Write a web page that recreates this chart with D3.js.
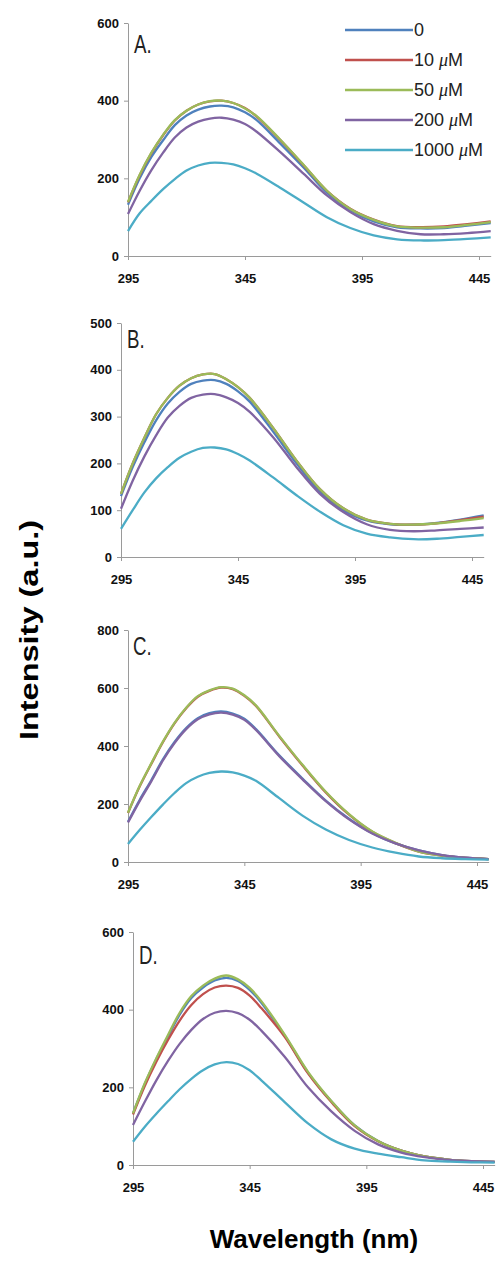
<!DOCTYPE html>
<html>
<head>
<meta charset="utf-8">
<script src="https://cdn.jsdelivr.net/npm/d3@7"></script>
<style>
    body { margin: 0; background: #fff; }
    svg { display: block; }
</style>
</head>
<body>
<div id="chart"></div>
<script>
const wavelengths = [295, 300, 305, 310, 315, 320, 325, 330, 335, 340, 345, 350, 360, 370, 380, 390, 400, 410, 420, 430, 440, 450];
const concentrations = ['0', '10', '50', '200', '1000'];
const xTicks = [295, 345, 395, 445];

const yTicksA = [0, 200, 400, 600];
const yTicksB = [0, 100, 200, 300, 400, 500];
const yTicksC = [0, 200, 400, 600, 800];
const yTicksD = [0, 200, 400, 600];

// Panel A
const intensityA0 = [132, 200, 255, 298, 337, 362, 377, 385, 387, 383, 370, 350, 290, 228, 163, 118, 89, 74, 71, 72, 78, 85];
const intensityA10 = [138, 208, 265, 311, 349, 374, 390, 398, 400, 394, 381, 359, 299, 234, 168, 122, 94, 77, 74, 76, 82, 89];
const intensityA50 = [139, 209, 266, 312, 350, 374, 390, 399, 400, 394, 380, 360, 300, 235, 168, 121, 93, 76, 73, 74, 80, 87];
const intensityA200 = [108, 168, 221, 266, 305, 331, 346, 354, 356, 351, 340, 320, 268, 212, 156, 113, 82, 65, 56, 56, 59, 64];
const intensityA1000 = [64, 110, 142, 172, 198, 220, 233, 240, 240, 236, 226, 212, 176, 138, 100, 72, 53, 43, 40, 41, 44, 48];

// Panel B
const intensityB0 = [130, 192, 245, 292, 328, 353, 370, 377, 378, 370, 354, 332, 268, 200, 140, 100, 78, 70, 69, 73, 80, 89];
const intensityB10 = [135, 200, 255, 305, 340, 366, 382, 390, 391, 380, 363, 340, 276, 206, 145, 104, 80, 71, 69, 72, 79, 86];
const intensityB50 = [135, 200, 255, 305, 340, 366, 382, 390, 391, 380, 363, 340, 276, 206, 145, 104, 80, 71, 69, 72, 77, 83];
const intensityB200 = [103, 163, 215, 260, 298, 323, 340, 347, 348, 341, 329, 310, 256, 192, 135, 96, 70, 58, 55, 57, 60, 63];
const intensityB1000 = [60, 100, 138, 168, 192, 212, 225, 233, 234, 230, 220, 206, 170, 132, 97, 68, 50, 42, 38, 39, 43, 47];

// Panel C
const intensityC0 = [139, 214, 282, 354, 414, 462, 496, 513, 519, 512, 494, 458, 368, 288, 212, 149, 99, 64, 40, 24, 15, 10];
const intensityC10 = [169, 260, 338, 413, 478, 530, 570, 590, 601, 596, 573, 538, 433, 333, 240, 163, 104, 65, 36, 22, 14, 10];
const intensityC50 = [170, 262, 340, 415, 480, 532, 572, 592, 603, 598, 575, 540, 435, 335, 242, 165, 105, 66, 36, 22, 14, 10];
const intensityC200 = [136, 210, 278, 350, 410, 458, 492, 509, 515, 508, 490, 455, 365, 285, 210, 147, 98, 64, 40, 24, 15, 10];
const intensityC1000 = [62, 110, 155, 198, 238, 272, 294, 307, 312, 309, 298, 280, 220, 160, 112, 76, 50, 32, 19, 13, 10, 8];

// Panel D
const intensityD0 = [133, 208, 273, 331, 387, 430, 457, 475, 482, 474, 451, 418, 333, 238, 164, 102, 62, 37, 22, 14, 10, 8];
const intensityD10 = [130, 203, 266, 322, 372, 412, 440, 457, 462, 456, 436, 404, 330, 236, 162, 100, 61, 37, 22, 14, 10, 8];
const intensityD50 = [133, 210, 275, 335, 392, 435, 462, 480, 488, 478, 456, 422, 336, 240, 165, 102, 62, 37, 22, 14, 10, 8];
const intensityD200 = [103, 162, 218, 268, 312, 348, 376, 392, 397, 391, 374, 346, 279, 200, 138, 88, 53, 32, 20, 13, 10, 8];
const intensityD1000 = [60, 98, 132, 164, 195, 222, 244, 259, 265, 260, 244, 218, 162, 107, 66, 42, 29, 20, 12, 9, 7, 6];

const colors = ['#4F81BD', '#C0504D', '#9BBB59', '#8064A2', '#4BACC6'];

const width = 501;
const height = 1263;

// x range: 295 -> left, 445 -> left + span
const panels = [
    { label: 'A.', series: [intensityA0, intensityA10, intensityA50, intensityA200, intensityA1000],
      yTicks: yTicksA, left: 128, span: 351, bottom: 256, top: 23, labelX: 134, labelY: 53, legend: true },
    { label: 'B.', series: [intensityB0, intensityB10, intensityB50, intensityB200, intensityB1000],
      yTicks: yTicksB, left: 121, span: 351, bottom: 557, top: 323, labelX: 127, labelY: 348 },
    { label: 'C.', series: [intensityC0, intensityC10, intensityC50, intensityC200, intensityC1000],
      yTicks: yTicksC, left: 128, span: 349, bottom: 862, top: 630, labelX: 133, labelY: 655 },
    { label: 'D.', series: [intensityD0, intensityD10, intensityD50, intensityD200, intensityD1000],
      yTicks: yTicksD, left: 133, span: 350, bottom: 1165, top: 932, labelX: 139, labelY: 964 }
];

const svg = d3.select('#chart')
    .append('svg')
    .attr('width', width)
    .attr('height', height)
    .style('font-family', '"Liberation Sans", Arial, sans-serif');

panels.forEach(p => {
    const x = d3.scaleLinear()
        .domain([295, 450])
        .range([p.left, p.left + p.span * 155 / 150]);
    const yMax = d3.max(p.yTicks);
    const y = d3.scaleLinear()
        .domain([0, yMax])
        .range([p.bottom, p.top]);

    const g = svg.append('g');

    const xAxis = g.append('g')
        .attr('transform', `translate(0,${p.bottom})`)
        .call(d3.axisBottom(x).tickValues(xTicks).tickSize(4).tickSizeOuter(0).tickPadding(14));

    const yAxis = g.append('g')
        .attr('transform', `translate(${p.left},0)`)
        .call(d3.axisLeft(y).tickValues(p.yTicks).tickSize(4).tickSizeOuter(0).tickPadding(5));

    [xAxis, yAxis].forEach(a => {
        a.select('.domain').attr('stroke', '#9a9a9a');
        a.selectAll('.tick line').attr('stroke', '#9a9a9a');
        a.selectAll('.tick text')
            .attr('fill', '#111')
            .style('font-size', '13px')
            .style('font-weight', 'bold')
            .style('font-family', '"Liberation Sans", Arial, sans-serif');
    });

    const line = d3.line()
        .x((d, i) => x(wavelengths[i]))
        .y(d => y(d))
        .curve(d3.curveCatmullRom.alpha(0.5));

    g.selectAll('path.series')
        .data(p.series)
        .join('path')
        .attr('class', 'series')
        .attr('fill', 'none')
        .attr('stroke', (d, i) => colors[i])
        .attr('stroke-width', 2.3)
        .attr('stroke-linejoin', 'round')
        .attr('d', line);

    g.append('text')
        .attr('transform', `translate(${p.labelX},${p.labelY}) scale(0.85,1.15)`)
        .style('font-size', '22px')
        .attr('fill', '#222')
        .text(p.label);

    if (p.legend) {
        const legend = g.append('g');
        const row = legend.selectAll('g')
            .data(concentrations)
            .join('g')
            .attr('transform', (d, i) => `translate(0,${30 + i * 30})`);

        row.append('line')
            .attr('x1', 345)
            .attr('x2', 413)
            .attr('stroke', (d, i) => colors[i])
            .attr('stroke-width', 2.5);

        const txt = row.append('text')
            .attr('x', 414)
            .attr('dy', '0.35em')
            .style('font-size', '18px')
            .attr('fill', '#222');
        txt.append('tspan').text(d => d);
        // units only after the non-zero concentrations
        const withUnit = txt.filter(d => d !== '0');
        withUnit.append('tspan').text(' ');
        withUnit.append('tspan')
            .style('font-family', '"Liberation Serif", "Times New Roman", serif')
            .style('font-style', 'italic')
            .text('μ');
        withUnit.append('tspan').text('M');
    }
});

svg.append('text')
    .attr('transform', 'translate(38,630) rotate(-90) scale(1.25,1)')
    .attr('text-anchor', 'middle')
    .style('font-size', '26px')
    .style('font-weight', 'bold')
    .attr('fill', '#000')
    .text('Intensity (a.u.)');

svg.append('text')
    .attr('x', 314)
    .attr('y', 1248)
    .attr('text-anchor', 'middle')
    .style('font-size', '26px')
    .style('font-weight', 'bold')
    .attr('fill', '#000')
    .text('Wavelength (nm)');
</script>
</body>
</html>
